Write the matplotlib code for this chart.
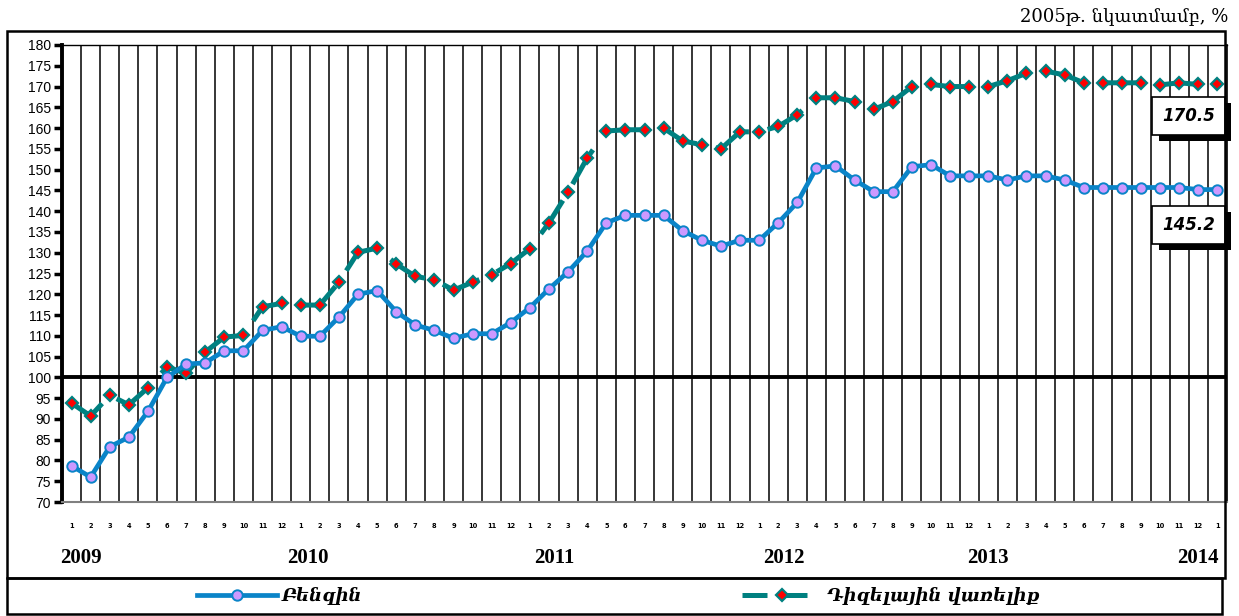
import matplotlib
matplotlib.use("Agg")
import matplotlib.pyplot as plt
import matplotlib.transforms as mtransforms
import matplotlib.patheffects as pe
from matplotlib.lines import Line2D
from matplotlib.patches import Rectangle

# monthly index, 2005 = 100
months = [str(m) for m in list(range(1, 13)) * 5] + ["1"]
years = ["2009", "2010", "2011", "2012", "2013", "2014"]
benzin = [78.7, 76.0, 83.3, 85.6, 91.8, 100.0, 103.2, 103.5, 106.4, 106.4,
          111.3, 112.2, 109.9, 109.9, 114.5, 120.0, 120.9, 115.8, 112.6, 111.3,
          109.4, 110.5, 110.5, 113.2, 116.8, 121.3, 125.4, 130.4, 137.2, 139.0,
          139.0, 139.0, 135.3, 133.0, 131.6, 133.0, 133.0, 137.2, 142.1, 150.4,
          150.9, 147.5, 144.7, 144.7, 150.7, 151.2, 148.5, 148.5, 148.5, 147.5,
          148.5, 148.5, 147.5, 145.7, 145.7, 145.7, 145.7, 145.7, 145.7, 145.2, 145.2]
diesel = [93.8, 90.7, 95.7, 93.4, 97.5, 102.5, 101.0, 106.1, 109.7, 110.1,
          117.0, 117.8, 117.4, 117.4, 122.9, 130.1, 131.1, 127.3, 124.3, 123.5,
          121.0, 122.9, 124.7, 127.4, 131.0, 137.2, 144.6, 152.8, 159.3, 159.6,
          159.6, 160.0, 156.9, 156.0, 155.0, 159.1, 159.1, 160.4, 163.2, 167.3,
          167.3, 166.4, 164.5, 166.4, 170.0, 170.5, 170.0, 170.0, 170.0, 171.4,
          173.2, 173.7, 172.8, 170.9, 170.9, 170.9, 170.9, 170.4, 170.9, 170.5, 170.5]
labels = ["Բենզին", "Դիզելային վառելիք"]
note = "2005թ. նկատմամբ, %"

# year label centres (in month index units)
year_pos = [0.5, 12.4, 25.3, 37.3, 48.0, 59.0]

arm_font = ["DejaVu Serif", "DejaVu Sans"]
blue = "#0A84C8"
teal = "#008080"

x = list(range(len(benzin)))

fig = plt.figure(figsize=(12.39, 6.16), dpi=100)
ax = fig.add_axes([62 / 1239, 1 - 502 / 616, 1165 / 1239, 457 / 616])

dash = (0, (8.0, 3.8))
ax.plot(x, diesel, color=teal, lw=3.6, linestyle=dash, marker="D", ms=6,
        mfc="#FF0000", mec=teal, mew=1.6, zorder=3)
ax.plot(x, benzin, color=blue, lw=3.4, marker="o", ms=7.5,
        mfc="#CC99FF", mec=blue, mew=1.4, zorder=4)

ax.set_xlim(-0.5, len(benzin) - 0.5)
ax.set_ylim(70, 180)
ax.set_yticks(range(70, 181, 5))
ax.tick_params(axis="y", direction="out", length=6, width=2.5, pad=2,
               labelsize=10)
for t in ax.get_yticklabels():
    t.set_fontfamily("Liberation Sans")

ax.set_xticks(x)
ax.set_xticklabels(months, fontsize=4.8, fontweight="bold")
ax.tick_params(axis="x", length=0, pad=15)
ax.set_xticks([i - 0.5 for i in range(1, len(benzin))], minor=True)
ax.tick_params(axis="x", which="minor", length=0)
ax.grid(which="minor", axis="x", color="black", lw=1.1)

ax.axhline(100, color="black", lw=2.8, zorder=2)

ax.spines["left"].set_linewidth(2.8)
ax.spines["top"].set_linewidth(1.0)
ax.spines["right"].set_linewidth(1.2)
ax.spines["bottom"].set_color("#808080")
ax.spines["bottom"].set_linewidth(1.5)

# year labels below the month numbers
trans = mtransforms.blended_transform_factory(ax.transData, fig.transFigure)
for yr, xp in zip(years, year_pos):
    ax.text(xp, 1 - 558 / 616, yr, transform=trans, ha="center", va="center",
            fontsize=15, fontweight="bold", family="Liberation Serif")

# boxed end-value labels with a black drop shadow
for val, ypos in [(diesel[-1], 162.9), (benzin[-1], 136.7)]:
    t = ax.text(58.5, ypos, f"{val:.1f}", ha="center", va="center",
                fontsize=12, fontweight="bold", fontstyle="italic", zorder=7,
                bbox=dict(boxstyle="square,pad=0.6", fc="white", ec="black", lw=1.2))
    t.get_bbox_patch().set_path_effects([
        pe.SimplePatchShadow(offset=(4.5, -4.5), shadow_rgbFace="black", alpha=1.0),
        pe.Normal(),
    ])

# outer frame and legend box
fig.patches.append(Rectangle((7 / 1239, 1 - 578 / 616), 1218 / 1239, 547 / 616,
                             transform=fig.transFigure, fill=False,
                             ec="black", lw=1.8))
fig.patches.append(Rectangle((7 / 1239, 2 / 616), 1215 / 1239, 36 / 616,
                             transform=fig.transFigure, fill=False,
                             ec="black", lw=1.8))

handles = [
    Line2D([], [], color=blue, lw=3.4, marker="o", ms=7.5, mfc="#CC99FF", mec=blue, mew=1.4),
    Line2D([], [], color=teal, lw=3.6, linestyle=(0, (5, 3)), marker="D", ms=6,
           mfc="#FF0000", mec=teal, mew=1.6),
]
fig.legend(handles, labels, loc="center", bbox_to_anchor=(0.499, 20 / 616),
           ncol=2, frameon=False, handlelength=4.4, handletextpad=0.3,
           columnspacing=21,
           prop=dict(family=arm_font, style="italic", weight="bold", size=13))

fig.text(1228 / 1239, 1 - 16 / 616, note, ha="right", va="center",
         fontsize=13, family=arm_font)

fig.savefig("out.png", dpi=100)
